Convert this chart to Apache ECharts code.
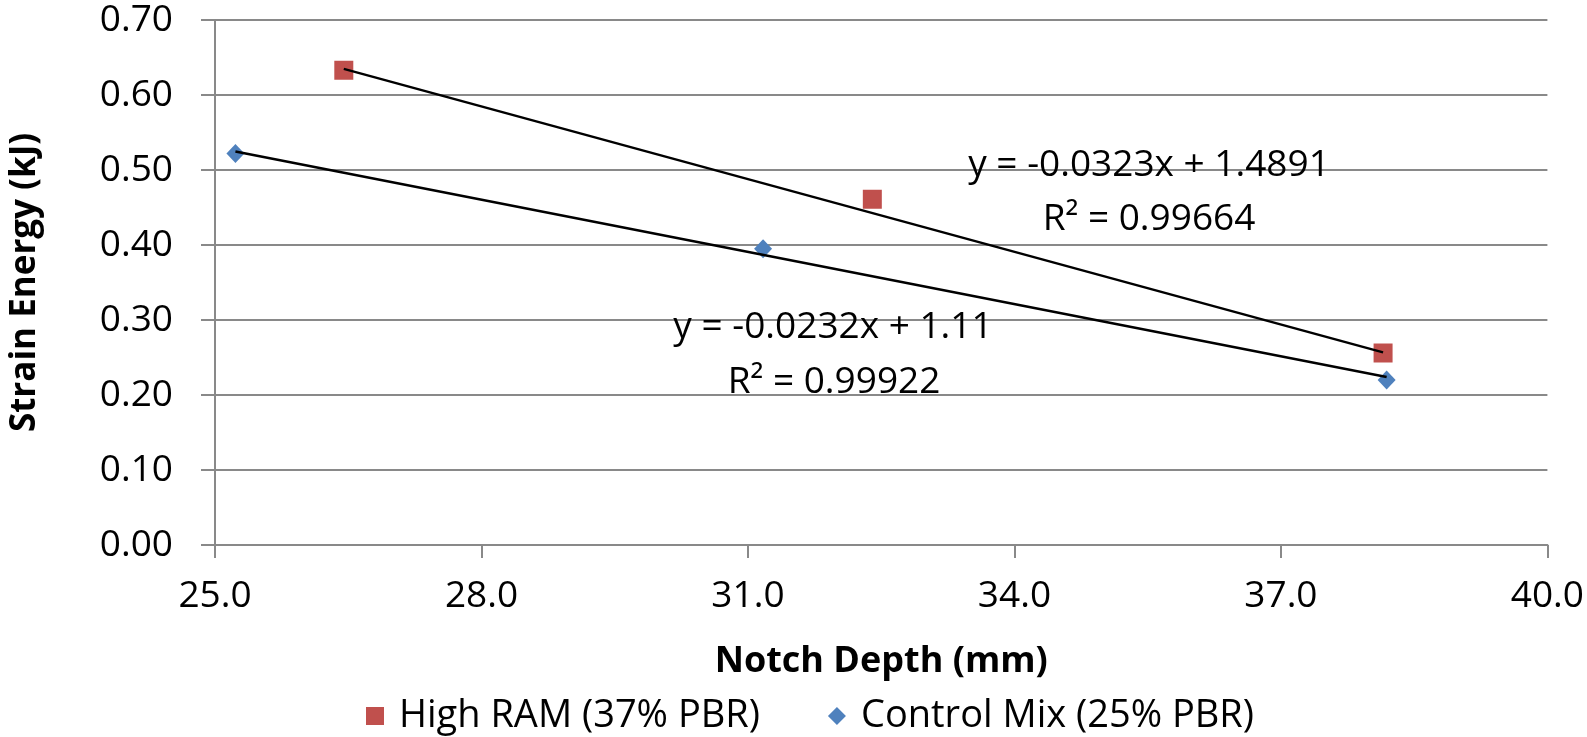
<!DOCTYPE html>
<html>
<head>
<meta charset="utf-8">
<title>Strain Energy vs Notch Depth</title>
<script src="https://cdn.jsdelivr.net/npm/echarts@6/dist/echarts.min.js"></script>
<style>
  html, body { margin: 0; padding: 0; background: #ffffff; }
  #chart { width: 1587px; height: 737px; }
</style>
</head>
<body>
<div id="chart"></div>
<script>
// Notch depth (mm) and strain energy (kJ) for each mix
const highRamDepth = [26.45, 32.40, 38.15];
const highRamEnergy = [0.633, 0.461, 0.256];
const controlDepth = [25.23, 31.17, 38.19];
const controlEnergy = [0.522, 0.395, 0.220];

// Linear trendline coefficients [slope, intercept] and R² values
const highRamFit = [-0.0323, 1.4891];
const controlFit = [-0.0232, 1.11];
const highRamR2 = '0.99664';
const controlR2 = '0.99922';

const seriesNames = ['High RAM (37% PBR)', 'Control Mix (25% PBR)'];
const xTitle = 'Notch Depth (mm)';
const yTitle = 'Strain Energy (kJ)';

const FONT = '"Open Sans", "Liberation Sans", sans-serif';
const GRID_GRAY = '#898989';
const LABEL_SIZE = 37;

function pairs(xs, ys) { return xs.map((x, i) => [x, ys[i]]); }
function fitLine(xs, fit) {
  const lo = Math.min(...xs), hi = Math.max(...xs);
  return [[lo, fit[0] * lo + fit[1]], [hi, fit[0] * hi + fit[1]]];
}
function eqText(fit) {
  const sign = fit[1] >= 0 ? '+' : '-';
  return 'y = ' + fit[0] + 'x ' + sign + ' ' + Math.abs(fit[1]);
}

const chart = echarts.init(document.getElementById('chart'), null, { renderer: 'canvas' });

const textStyle = { fontFamily: FONT, fontSize: LABEL_SIZE, fill: '#000' };

chart.setOption({
  animation: false,
  backgroundColor: '#ffffff',
  grid: { left: 199, right: 38, top: 20, bottom: 192, containLabel: false },
  xAxis: {
    type: 'value',
    min: 25, max: 40, interval: 3,
    name: xTitle,
    nameLocation: 'middle',
    nameGap: 99,
    nameTextStyle: { fontFamily: FONT, fontSize: 36, fontWeight: 'bold', color: '#000' },
    axisLine: { show: true, lineStyle: { color: GRID_GRAY, width: 2 } },
    axisTick: { show: true, length: 13, lineStyle: { color: GRID_GRAY, width: 2 } },
    axisLabel: { margin: 33, fontFamily: FONT, fontSize: LABEL_SIZE, color: '#000',
                 formatter: v => v.toFixed(1) },
    splitLine: { show: false }
  },
  yAxis: {
    type: 'value',
    min: 0, max: 0.7, interval: 0.1,
    name: yTitle,
    nameLocation: 'middle',
    nameGap: 172,
    nameRotate: 90,
    nameTextStyle: { fontFamily: FONT, fontSize: 35, fontWeight: 'bold', color: '#000' },
    axisLine: { show: true, lineStyle: { color: GRID_GRAY, width: 2 } },
    axisTick: { show: true, length: 14, lineStyle: { color: GRID_GRAY, width: 2 } },
    axisLabel: { margin: 42, fontFamily: FONT, fontSize: LABEL_SIZE, color: '#000',
                 formatter: v => v.toFixed(2) },
    splitLine: { show: true, lineStyle: { color: GRID_GRAY, width: 2 } }
  },
  legend: {
    top: 697,
    left: 366,
    padding: 0,
    itemGap: 68,
    itemWidth: 18,
    itemHeight: 18,
    textStyle: { fontFamily: FONT, fontSize: 38, color: '#000', lineHeight: 38,
                 padding: [0, 0, 0, 10] },
    data: [
      { name: seriesNames[0], icon: 'rect' },
      { name: seriesNames[1], icon: 'diamond' }
    ]
  },
  series: [
    {
      name: seriesNames[0], type: 'scatter', symbol: 'rect', symbolSize: 19,
      itemStyle: { color: '#c0504d', opacity: 1 }, z: 2,
      data: pairs(highRamDepth, highRamEnergy)
    },
    {
      name: seriesNames[1], type: 'scatter', symbol: 'diamond', symbolSize: [18, 19],
      itemStyle: { color: '#4f81bd', opacity: 1 }, z: 2,
      data: pairs(controlDepth, controlEnergy)
    },
    {
      name: 'trend-high', type: 'line', showSymbol: false, symbol: 'none', silent: true, z: 3,
      lineStyle: { color: '#000', width: 2.4 },
      data: fitLine(highRamDepth, highRamFit)
    },
    {
      name: 'trend-control', type: 'line', showSymbol: false, symbol: 'none', silent: true, z: 3,
      lineStyle: { color: '#000', width: 2.4 },
      data: fitLine(controlDepth, controlFit)
    }
  ],
  graphic: [
    { type: 'text', x: 1149, y: 165, z: 10,
      style: Object.assign({}, textStyle, { text: eqText(highRamFit), align: 'center', verticalAlign: 'middle' }) },
    { type: 'text', x: 1149, y: 219, z: 10,
      style: Object.assign({}, textStyle, { text: 'R² = ' + highRamR2, align: 'center', verticalAlign: 'middle' }) },
    { type: 'text', x: 833, y: 327, z: 10,
      style: Object.assign({}, textStyle, { text: eqText(controlFit), align: 'center', verticalAlign: 'middle' }) },
    { type: 'text', x: 834, y: 382, z: 10,
      style: Object.assign({}, textStyle, { text: 'R² = ' + controlR2, align: 'center', verticalAlign: 'middle' }) }
  ]
});
</script>
</body>
</html>
